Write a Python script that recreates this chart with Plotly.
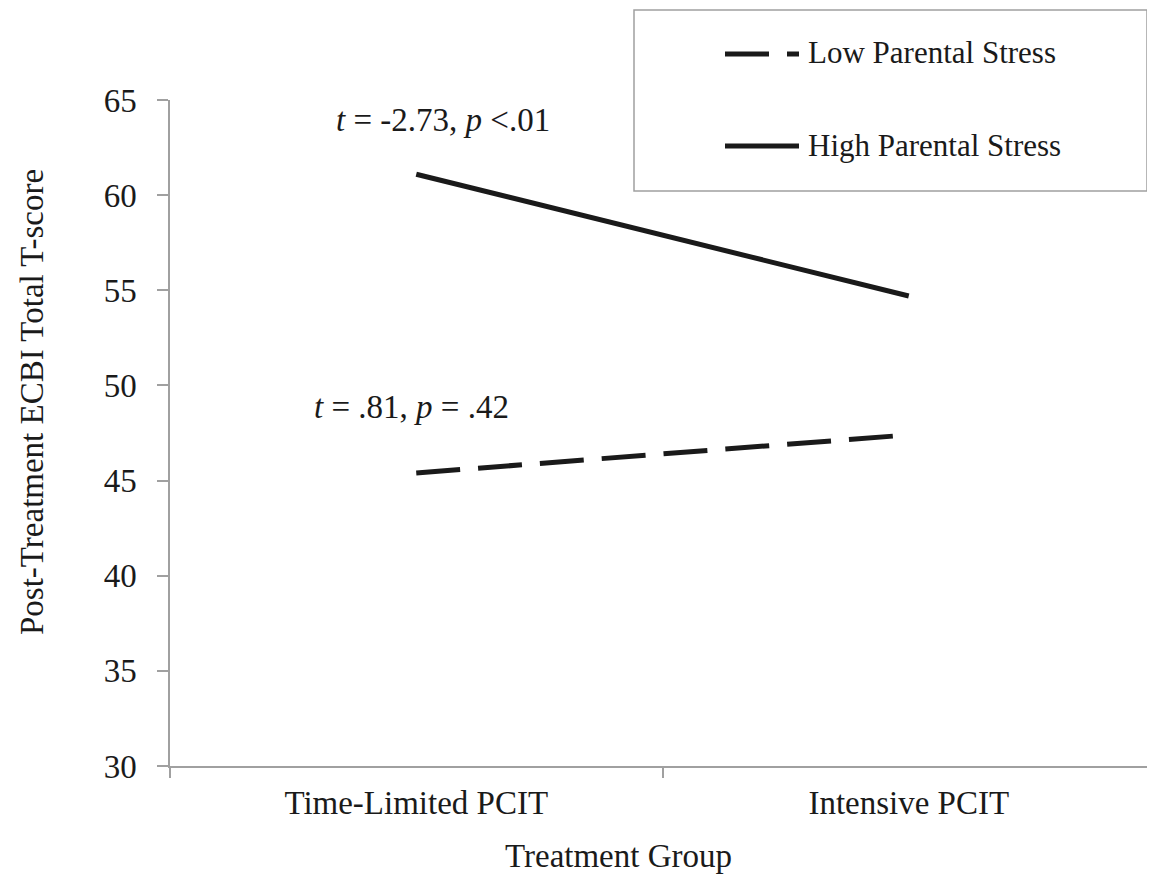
import plotly.graph_objects as go

groups = ["Time-Limited PCIT", "Intensive PCIT"]
low_stress = [45.4, 47.4]
high_stress = [61.1, 54.7]
series_names = ["Low Parental Stress", "High Parental Stress"]
y_ticks = [30, 35, 40, 45, 50, 55, 60, 65]
stat_high = "<i>t</i> = -2.73, <i>p</i> &lt;.01"
stat_low = "<i>t</i> = .81, <i>p</i> = .42"

# the page body adds an 8px margin, so the figure is 8px smaller on each side
OFF = 8
W, H = 1155 - OFF, 880 - OFF
L, R, T, B = 170 - OFF, 0, 100 - OFF, 114
PW, PH = W - L - R, H - T - B

def px(x):
    return (x - OFF - L) / PW

def py(y):
    return (H - B - (y - OFF)) / PH

FONT = "Liberation Serif, Times New Roman, serif"
INK = "#1a1a1a"
AXIS = "#a0a0a0"
DASH = "44px,18px"

fig = go.Figure()
fig.add_trace(go.Scatter(x=groups, y=low_stress, mode="lines", name=series_names[0],
                         line=dict(color=INK, width=5, dash=DASH), showlegend=False))
fig.add_trace(go.Scatter(x=groups, y=high_stress, mode="lines", name=series_names[1],
                         line=dict(color=INK, width=5), showlegend=False))

# legend box (manual to match the reference)
fig.add_shape(type="rect", xref="paper", yref="paper",
              x0=px(634), x1=px(1147), y0=py(191), y1=py(10),
              line=dict(color=AXIS, width=1.5), fillcolor="white", layer="below")
fig.add_shape(type="line", xref="paper", yref="paper",
              x0=px(725), x1=px(799), y0=py(54), y1=py(54),
              line=dict(color=INK, width=5, dash=DASH))
fig.add_shape(type="line", xref="paper", yref="paper",
              x0=px(725), x1=px(799), y0=py(146), y1=py(146),
              line=dict(color=INK, width=5))
for name, yy in zip(series_names, [53, 145]):
    fig.add_annotation(text=name, xref="paper", yref="paper", x=px(806), y=py(yy),
                       xanchor="left", yanchor="middle", showarrow=False,
                       font=dict(family=FONT, size=31, color=INK))

fig.add_annotation(text=stat_high, xref="paper", yref="paper", x=px(443), y=py(120),
                   xanchor="center", yanchor="middle", showarrow=False,
                   font=dict(family=FONT, size=33, color=INK))
fig.add_annotation(text=stat_low, xref="paper", yref="paper", x=px(411), y=py(407),
                   xanchor="center", yanchor="middle", showarrow=False,
                   font=dict(family=FONT, size=33, color=INK))
fig.add_annotation(text="Treatment Group", xref="paper", yref="paper", x=px(618), y=py(856),
                   xanchor="center", yanchor="middle", showarrow=False,
                   font=dict(family=FONT, size=33, color=INK))
fig.add_annotation(text="Post-Treatment ECBI Total T-score", xref="paper", yref="paper",
                   x=px(32), y=py(402), textangle=-90,
                   xanchor="center", yanchor="middle", showarrow=False,
                   font=dict(family=FONT, size=33, color=INK))

fig.update_layout(
    width=W, height=H,
    margin=dict(l=L, r=R, t=T, b=B, autoexpand=False),
    plot_bgcolor="white", paper_bgcolor="white",
    font=dict(family=FONT, size=33, color=INK),
    showlegend=False,
)
fig.update_xaxes(type="category", range=[-0.5, 1.5], tickson="boundaries",
                 showline=True, linecolor=AXIS, linewidth=2,
                 ticks="outside", ticklen=10, tickcolor=AXIS, tickwidth=1.5,
                 showgrid=False, zeroline=False, ticklabelstandoff=6,
                 tickfont=dict(family=FONT, size=33, color=INK))
fig.update_yaxes(range=[30, 65], tickvals=y_ticks,
                 showline=True, linecolor=AXIS, linewidth=1.5,
                 ticks="outside", ticklen=11, tickcolor=AXIS, tickwidth=1.5,
                 showgrid=False, zeroline=False, ticklabelstandoff=14,
                 tickfont=dict(family=FONT, size=33, color=INK))

fig.write_html("out.html")
